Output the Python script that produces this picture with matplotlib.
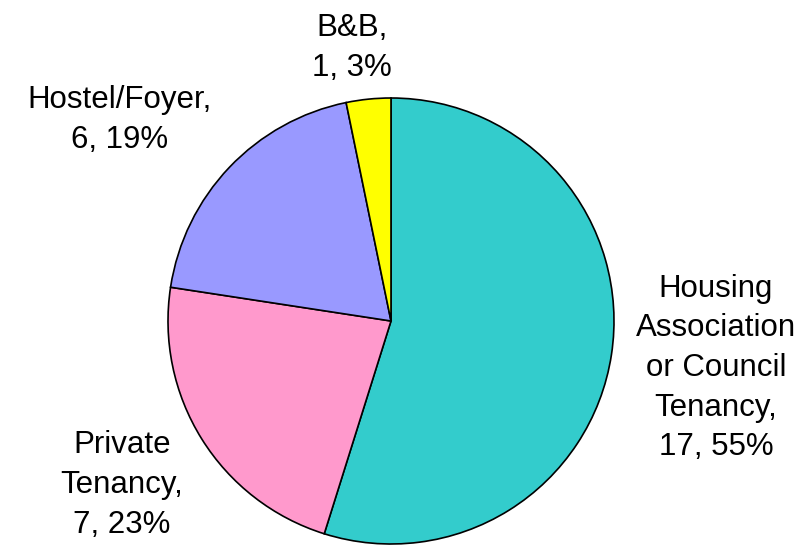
import matplotlib
matplotlib.use("Agg")
import matplotlib.pyplot as plt

# data
categories = ["Housing\nAssociation\nor Council\nTenancy", "Private\nTenancy", "Hostel/Foyer", "B&B"]
counts = [17, 7, 6, 1]
colors = ["#33CCCC", "#FF99CC", "#9999FF", "#FFFF00"]

plt.rcParams['font.family'] = ['Liberation Sans', 'DejaVu Sans']

W, H = 809, 545
fig = plt.figure(figsize=(W / 100, H / 100), dpi=100)
ax = fig.add_axes([0, 0, 1, 1])

cx, cy, r = 391, H - 321, 223
ax.pie(counts, colors=colors, startangle=90, counterclock=False,
       center=(cx, cy), radius=r, frame=True,
       wedgeprops=dict(edgecolor='black', linewidth=1.2))
ax.set_xlim(0, W)
ax.set_ylim(0, H)
ax.set_aspect('equal')
ax.axis('off')

total = sum(counts)
label_pos = [(716, H - 368), (122, H - 485), (120, H - 120), (352, H - 48)]
for name, n, (x, y) in zip(categories, counts, label_pos):
    pct = round(100 * n / total)
    ax.text(x, y, f"{name},\n{n}, {pct}%", ha='center', va='center',
            fontsize=22.5, linespacing=1.42)

fig.savefig("out.png", dpi=100)
